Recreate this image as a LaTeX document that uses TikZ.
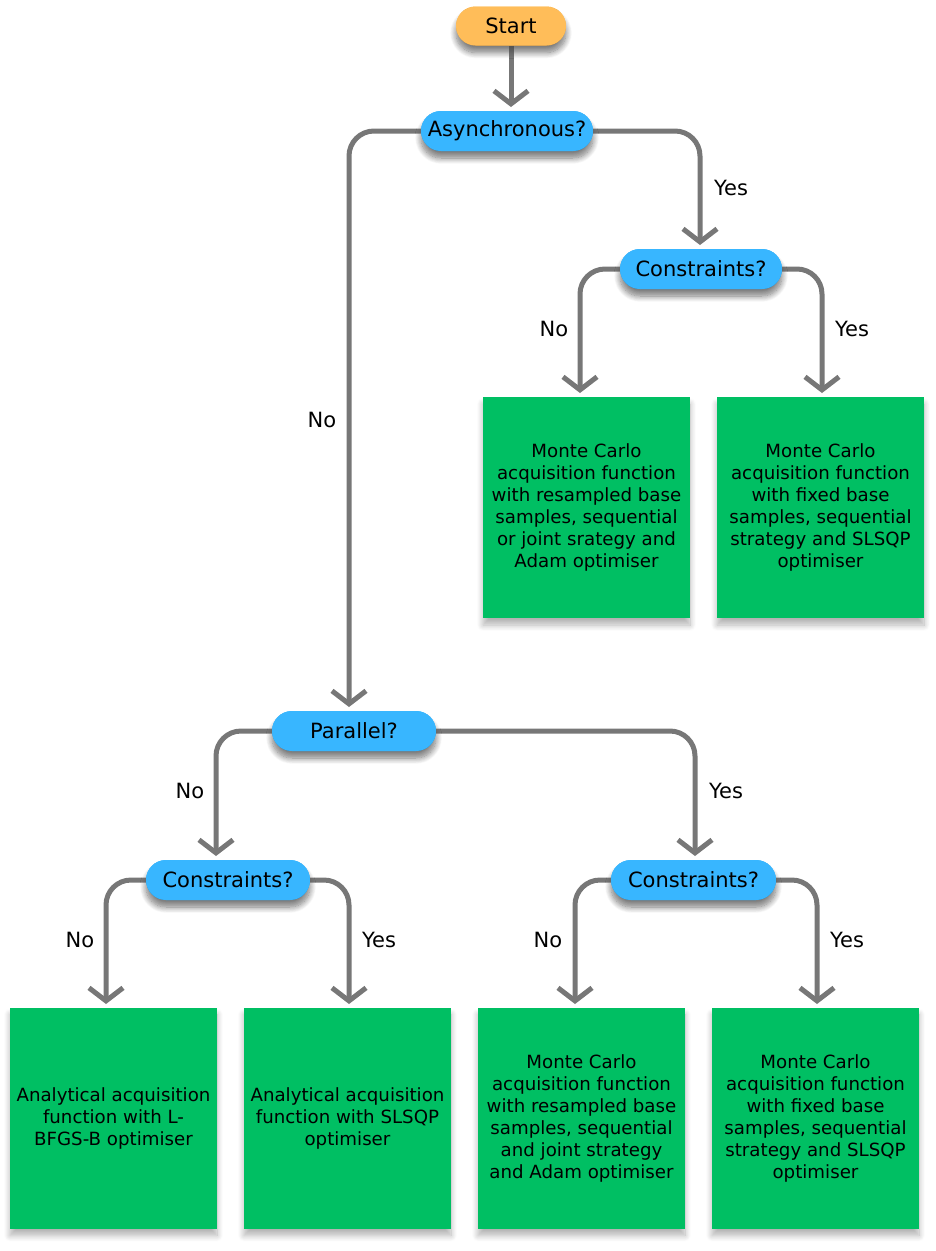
\documentclass[tikz,border=0pt]{standalone}
\usepackage{fontspec}
\setmainfont{DejaVu Sans}
\usetikzlibrary{arrows.meta,shadows.blur}
\definecolor{startc}{HTML}{FFBD59}
\definecolor{decc}{HTML}{38B6FF}
\definecolor{boxc}{HTML}{00BF63}
\definecolor{linec}{HTML}{777777}
\begin{document}
\begin{tikzpicture}[x=1pt,y=-1pt,
  shad/.style={blur shadow={shadow xshift=0pt, shadow yshift=-7pt, shadow opacity=30, shadow blur steps=10, shadow blur radius=6pt}},
  term/.style={shad, rounded corners=19.5pt, fill=startc, minimum width=110pt, minimum height=39pt, inner sep=0pt, font=\fontsize{21}{24}\selectfont},
  dec/.style={shad, rounded corners=20pt, fill=decc, minimum height=40pt, inner sep=0pt, font=\fontsize{21}{24}\selectfont},
  res/.style={shad, fill=boxc, minimum width=207pt, minimum height=221pt, inner sep=0pt, align=center, font=\fontsize{18.2}{22}\selectfont},
  conn/.style={draw=linec, line width=5pt, rounded corners=25pt, -{Straight Barb[length=13pt,width=34pt,line width=5pt]}, shorten >=4pt},
  lab/.style={font=\fontsize{21}{24}\selectfont, inner sep=0pt}]
\useasboundingbox (0,0) rectangle (935,1251);
% nodes
\node[term] (start) at (511,26) {Start};
\node[dec, minimum width=172pt] (async) at (507,131) {Asynchronous?};
\node[dec, minimum width=162pt] (c1) at (701,269) {Constraints?};
\node[res] (r1) at (586.5,507.5) {Monte Carlo\\acquisition function\\with resampled base\\samples, sequential\\or joint srategy and\\Adam optimiser};
\node[res] (r2) at (820.5,507.5) {Monte Carlo\\acquisition function\\with fixed base\\samples, sequential\\strategy and SLSQP\\optimiser};
\node[dec, minimum width=164pt] (par) at (354,731) {Parallel?};
\node[dec, minimum width=164pt] (c2) at (228,880) {Constraints?};
\node[dec, minimum width=165pt] (c3) at (693.5,880) {Constraints?};
\node[res] (r3) at (113.5,1118) {Analytical acquisition\\function with L-\\BFGS-B optimiser};
\node[res] (r4) at (347.5,1118) {Analytical acquisition\\function with SLSQP\\optimiser};
\node[res] (r5) at (581.5,1118) {Monte Carlo\\acquisition function\\with resampled base\\samples, sequential\\and joint strategy\\and Adam optimiser};
\node[res] (r6) at (815.5,1118) {Monte Carlo\\acquisition function\\with fixed base\\samples, sequential\\strategy and SLSQP\\optimiser};
% connector end coordinates
\coordinate (aN) at (511,111);
\coordinate (pN) at (349,711);
\coordinate (c1N) at (700,249);
\coordinate (r1N) at (580,397);
\coordinate (r2N) at (822,397);
\coordinate (c2N) at (216,860);
\coordinate (c3N) at (695,860);
\coordinate (r3N) at (106,1008);
\coordinate (r4N) at (349,1008);
\coordinate (r5N) at (575,1008);
\coordinate (r6N) at (817,1008);
% connectors
\draw[conn] (start.south) -- (aN);
\draw[conn] (async.west) -| (pN);
\draw[conn] (async.east) -| (c1N);
\draw[conn] (c1.west) -| (r1N);
\draw[conn] (c1.east) -| (r2N);
\draw[conn] (par.west) -| (c2N);
\draw[conn] (par.east) -| (c3N);
\draw[conn] (c2.west) -| (r3N);
\draw[conn] (c2.east) -| (r4N);
\draw[conn] (c3.west) -| (r5N);
\draw[conn] (c3.east) -| (r6N);
% labels
\node[lab] (l1) at (322,420) {No};
\node[lab] (l2) at (731,188) {Yes};
\node[lab] (l3) at (554,329) {No};
\node[lab] (l4) at (852,329) {Yes};
\node[lab] (l5) at (190,791) {No};
\node[lab] (l6) at (726,791) {Yes};
\node[lab] (l7) at (80,940) {No};
\node[lab] (l8) at (379,940) {Yes};
\node[lab] (l9) at (548,940) {No};
\node[lab] (l10) at (847,940) {Yes};
% redraw nodes over connectors
\node[term] at (start) {Start};
\node[dec, minimum width=172pt] at (async) {Asynchronous?};
\node[dec, minimum width=162pt] at (c1) {Constraints?};
\node[dec, minimum width=164pt] at (par) {Parallel?};
\node[dec, minimum width=164pt] at (c2) {Constraints?};
\node[dec, minimum width=165pt] at (c3) {Constraints?};
\end{tikzpicture}
\end{document}
